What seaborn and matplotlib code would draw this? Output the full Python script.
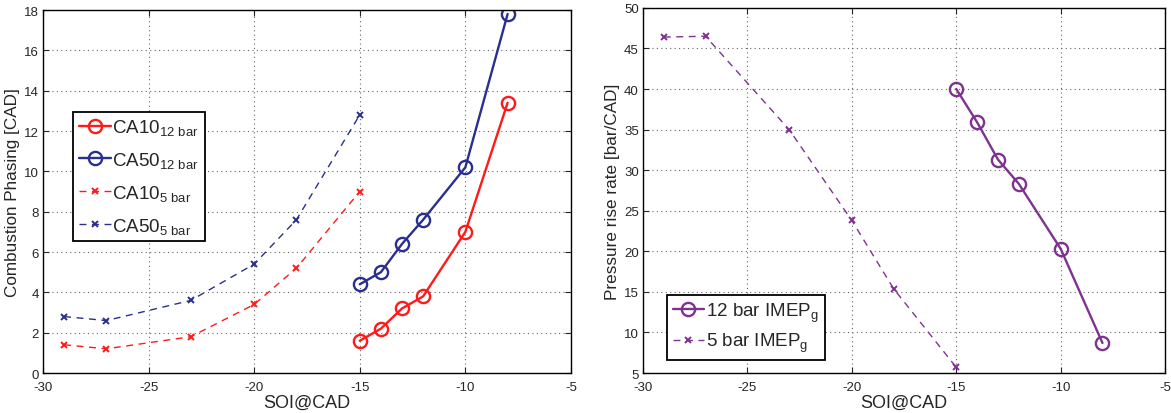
import matplotlib
matplotlib.use("Agg")
import matplotlib.pyplot as plt
import seaborn as sns
import pandas as pd

# Start-of-injection timings (CAD)
soi_12bar = [-15, -14, -13, -12, -10, -8]
soi_5bar = [-29, -27, -23, -20, -18, -15]

# Combustion phasing [CAD]
ca10_12bar = [1.6, 2.2, 3.2, 3.8, 7.0, 13.4]
ca50_12bar = [4.4, 5.0, 6.4, 7.6, 10.2, 17.8]
ca10_5bar = [1.4, 1.2, 1.8, 3.4, 5.2, 9.0]
ca50_5bar = [2.8, 2.6, 3.6, 5.4, 7.6, 12.8]

# Peak pressure rise rate [bar/CAD]
prr_12bar = [40.0, 35.9, 31.3, 28.3, 20.3, 8.7]
prr_5bar = [46.4, 46.5, 35.0, 23.8, 15.4, 5.7]

x_ticks = [-30, -25, -20, -15, -10, -5]

sns.set_style("white")
plt.rcParams["font.family"] = ["Liberation Sans", "DejaVu Sans"]
plt.rcParams["mathtext.fontset"] = "custom"
plt.rcParams["mathtext.rm"] = "Liberation Sans"
plt.rcParams["mathtext.default"] = "regular"

RED = "#ff1a1a"
BLUE = "#2a2f8f"
PURPLE = "#7f3290"

fig = plt.figure(figsize=(11.71, 4.14), dpi=100)
ax1 = fig.add_axes([0.0367, 0.0966, 0.4509, 0.8768])
ax2 = fig.add_axes([0.549, 0.0966, 0.446, 0.882])


def draw(ax, x, y, color, solid, label):
    df = pd.DataFrame({"x": x, "y": y})
    if solid:
        sns.lineplot(data=df, x="x", y="y", ax=ax, color=color, lw=1.7,
                     marker="o", markersize=9.5, markerfacecolor="none",
                     markeredgecolor=color, markeredgewidth=1.7,
                     sort=False, label=label)
    else:
        sns.lineplot(data=df, x="x", y="y", ax=ax, color=color, lw=1.0,
                     linestyle=(0, (5, 4)), marker="x", markersize=4,
                     markeredgecolor=color, markeredgewidth=1.4,
                     sort=False, label=label)


draw(ax1, soi_12bar, ca10_12bar, RED, True, r"CA10$_{12\ bar}$")
draw(ax1, soi_12bar, ca50_12bar, BLUE, True, r"CA50$_{12\ bar}$")
draw(ax1, soi_5bar, ca10_5bar, RED, False, r"CA10$_{5\ bar}$")
draw(ax1, soi_5bar, ca50_5bar, BLUE, False, r"CA50$_{5\ bar}$")

draw(ax2, soi_12bar, prr_12bar, PURPLE, True, r"12 bar IMEP$_g$")
draw(ax2, soi_5bar, prr_5bar, PURPLE, False, r"5 bar IMEP$_g$")

for ax in (ax1, ax2):
    ax.set_xlim(-30, -5)
    ax.set_xticks(x_ticks)
    ax.set_xticklabels([str(t) for t in x_ticks])
    ax.grid(True, color="#666666", linestyle=(0, (1, 3)), linewidth=0.8)
    ax.tick_params(direction="in", length=4, width=0.8, labelsize=9.5,
                   top=True, right=True, bottom=True, left=True)
    ax.tick_params(axis="x", pad=6)
    ax.tick_params(axis="y", pad=3)
    for s in ax.spines.values():
        s.set_color("black")
        s.set_linewidth(1.0)
    ax.set_xlabel("SOI@CAD", fontsize=13, labelpad=0)

ax1.set_ylim(0, 18)
ax1.set_yticks(range(0, 19, 2))
ax1.set_ylabel("Combustion Phasing [CAD]", fontsize=12.3, labelpad=3)

ax2.set_ylim(5, 50)
ax2.set_yticks(range(5, 51, 5))
ax2.set_ylabel("Pressure rise rate [bar/CAD]", fontsize=12.3, labelpad=3)

leg1 = ax1.legend(loc="upper left", bbox_to_anchor=(0.057, 0.72), fontsize=13.5,
                  frameon=True, fancybox=False, handlelength=1.7,
                  handletextpad=0.1, borderpad=0.3, labelspacing=0.68,
                  borderaxespad=0)
leg2 = ax2.legend(loc="lower left", bbox_to_anchor=(0.046, 0.036), fontsize=13.5,
                  frameon=True, fancybox=False, handlelength=1.7,
                  handletextpad=0.1, borderpad=0.3, labelspacing=0.4,
                  borderaxespad=0)
for leg in (leg1, leg2):
    fr = leg.get_frame()
    fr.set_edgecolor("black")
    fr.set_linewidth(1.3)
    fr.set_alpha(1)

fig.savefig("out.png", dpi=100)
